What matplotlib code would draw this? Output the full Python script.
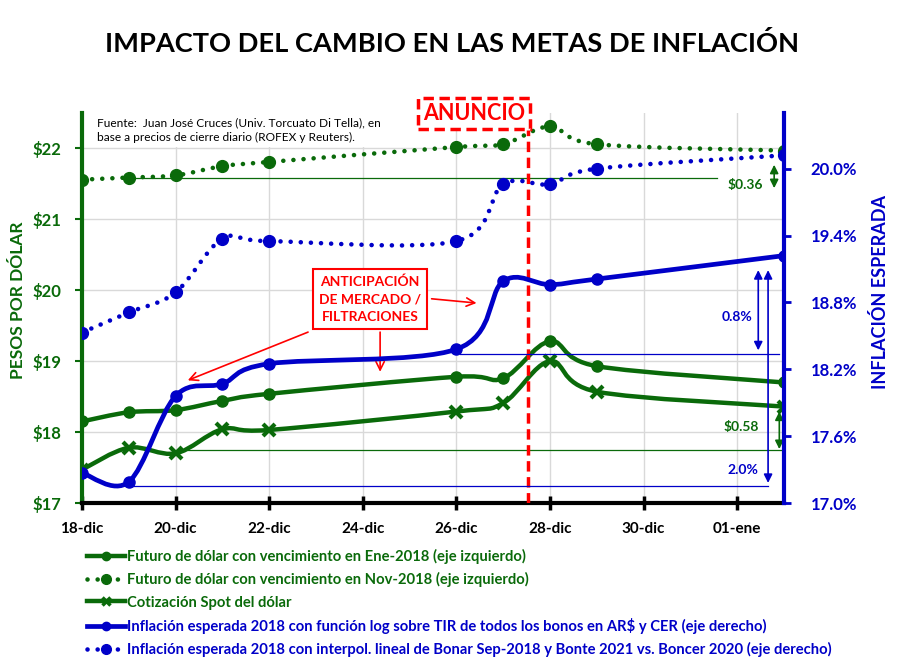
import numpy as np
import matplotlib
matplotlib.use('Agg')
import matplotlib.pyplot as plt
import matplotlib.dates as mdates
from matplotlib.path import Path
from matplotlib.patches import PathPatch
from matplotlib.lines import Line2D

plt.rcParams['font.family'] = ['Lato', 'DejaVu Sans']

VERDE = '#0a6a0a'
AZUL = '#0000c8'
ROJO = '#ff0000'

fechas = ['2017-12-18', '2017-12-19', '2017-12-20', '2017-12-21', '2017-12-22',
          '2017-12-26', '2017-12-27', '2017-12-28', '2017-12-29', '2018-01-02']
futuro_ene = [18.15, 18.28, 18.31, 18.44, 18.54, 18.78, 18.76, 19.28, 18.93, 18.70]
futuro_nov = [21.56, 21.59, 21.62, 21.75, 21.81, 22.02, 22.06, 22.31, 22.06, 21.97]
spot = [17.47, 17.78, 17.70, 18.04, 18.03, 18.29, 18.41, 19.00, 18.57, 18.36]
infl_log = [17.27, 17.19, 17.96, 18.07, 18.25, 18.38, 18.99, 18.96, 19.01, 19.22]
infl_interp = [18.53, 18.71, 18.89, 19.37, 19.35, 19.35, 19.86, 19.86, 20.00, 20.12]

nombres = ['Futuro de dólar con vencimiento en Ene-2018 (eje izquierdo)',
           'Futuro de dólar con vencimiento en Nov-2018 (eje izquierdo)',
           'Cotización Spot del dólar',
           'Inflación esperada 2018 con función log sobre TIR de todos los bonos en AR$ y CER (eje derecho)',
           'Inflación esperada 2018 con interpol. lineal de Bonar Sep-2018 y Bonte 2021 vs. Boncer 2020 (eje derecho)']

meses = {12: 'dic', 1: 'ene'}

x = mdates.date2num(np.array(fechas, dtype='datetime64[D]'))
d0 = mdates.date2num(np.datetime64('2017-12-18'))


def suave(xs, ys):
    # curva tipo Excel (Catmull-Rom pasada a Bezier)
    pts = np.column_stack([xs, ys])
    verts = [pts[0]]
    codes = [Path.MOVETO]
    n = len(pts)
    for i in range(n - 1):
        p0 = pts[i - 1] if i > 0 else pts[i]
        p1 = pts[i]
        p2 = pts[i + 1]
        p3 = pts[i + 2] if i + 2 < n else pts[i + 1]
        verts += [p1 + (p2 - p0) / 6, p2 - (p3 - p1) / 6, p2]
        codes += [Path.CURVE4] * 3
    return Path(verts, codes)


punteado = (0, (0.01, 2.2))

fig = plt.figure(figsize=(9.1, 6.6), dpi=100)
ax = fig.add_axes([82 / 910, 1 - 503 / 660, 702 / 910, 390 / 660])
ax2 = ax.twinx()

ax.set_xlim(d0, d0 + 15)
ax.set_ylim(17, 22.5)
ax2.set_ylim(17, 20.5)

# grilla
ax.set_axisbelow(True)
ax.grid(True, color='#d9d9d9', lw=1)

# series eje izquierdo
ax.add_patch(PathPatch(suave(x, futuro_ene), fill=False, color=VERDE, lw=3.2, zorder=3))
ax.plot(x, futuro_ene, 'o', color=VERDE, ms=8, zorder=4)
ax.add_patch(PathPatch(suave(x, futuro_nov), fill=False, color=VERDE, lw=3.3,
                       linestyle=punteado, capstyle='round', zorder=3))
ax.plot(x, futuro_nov, 'o', color=VERDE, ms=8.5, zorder=4)
ax.add_patch(PathPatch(suave(x, spot), fill=False, color=VERDE, lw=3.2, zorder=3))
ax.plot(x, spot, 'x', color=VERDE, ms=8, mew=3, zorder=4)

# series eje derecho
ax2.add_patch(PathPatch(suave(x, infl_log), fill=False, color=AZUL, lw=3.4, zorder=3))
ax2.plot(x, infl_log, 'o', color=AZUL, ms=8, zorder=4)
ax2.add_patch(PathPatch(suave(x, infl_interp), fill=False, color=AZUL, lw=3.3,
                        linestyle=punteado, capstyle='round', zorder=3))
ax2.plot(x, infl_interp, 'o', color=AZUL, ms=8.5, zorder=4)

# lineas de referencia y flechas
ax.plot([d0 + 1, d0 + 13.57], [21.59, 21.59], color=VERDE, lw=0.9, zorder=2)
ax.plot([d0 + 2.03, d0 + 14.94], [17.75, 17.75], color=VERDE, lw=0.9, zorder=2)
ax2.plot([d0 + 1.09, d0 + 14.66], [17.15, 17.15], color=AZUL, lw=0.9, zorder=2)
ax2.plot([d0 + 8.08, d0 + 14.89], [18.34, 18.34], color=AZUL, lw=0.9, zorder=2)

flecha = dict(arrowstyle='<|-|>,head_length=0.5,head_width=0.25', lw=1.2, shrinkA=0, shrinkB=0)
ax.annotate('', xy=(d0 + 14.79, 21.77), xytext=(d0 + 14.79, 21.44),
            arrowprops=dict(flecha, color=VERDE))
ax.annotate('', xy=(d0 + 14.90, 18.29), xytext=(d0 + 14.90, 17.76),
            arrowprops=dict(flecha, color=VERDE))
ax2.annotate('', xy=(d0 + 14.45, 19.09), xytext=(d0 + 14.45, 18.37),
             arrowprops=dict(flecha, color=AZUL))
ax2.annotate('', xy=(d0 + 14.66, 19.09), xytext=(d0 + 14.66, 17.18),
             arrowprops=dict(flecha, color=AZUL))

ax.text(d0 + 14.17, 21.48, '$0.36', color=VERDE, fontsize=10, fontweight='bold',
        ha='center', va='center', zorder=5)
ax.text(d0 + 14.08, 18.07, '$0.58', color=VERDE, fontsize=10, fontweight='bold',
        ha='center', va='center', zorder=5)
ax2.text(d0 + 14.0, 18.67, '0.8%', color=AZUL, fontsize=10, fontweight='bold',
         ha='center', va='center', zorder=5)
ax2.text(d0 + 14.12, 17.30, '2.0%', color=AZUL, fontsize=10, fontweight='bold',
         ha='center', va='center', zorder=5)

# anuncio
ax.axvline(d0 + 9.53, ymin=0, ymax=0.956, color=ROJO, lw=2.5, ls=(0, (3, 1.6)), zorder=5)
fig.text(474 / 910, 1 - 113.5 / 660, 'ANUNCIO', color=ROJO, fontsize=15.5, fontweight='bold',
         ha='center', va='center',
         bbox=dict(boxstyle='square,pad=0.25', fc='white', ec=ROJO, lw=2.5, ls=(0, (3, 1.6))))

# anticipacion
ax.text(d0 + 6.15, 19.87, 'ANTICIPACIÓN\nDE MERCADO /\nFILTRACIONES', color=ROJO, fontsize=10,
        fontweight='bold', ha='center', va='center', linespacing=1.55, zorder=6,
        bbox=dict(boxstyle='square,pad=0.45', fc='white', ec=ROJO, lw=1.5))
roja = dict(arrowstyle='->,head_length=0.6,head_width=0.3', color=ROJO, lw=1.2,
            shrinkA=0, shrinkB=0)
ax.annotate('', xy=(d0 + 2.26, 18.73), xytext=(d0 + 4.83, 19.41), arrowprops=roja, zorder=6)
ax.annotate('', xy=(d0 + 6.37, 18.85), xytext=(d0 + 6.37, 19.41), arrowprops=roja, zorder=6)
ax.annotate('', xy=(d0 + 8.43, 19.82), xytext=(d0 + 7.47, 19.88), arrowprops=roja, zorder=6)

# fuente
ax.text(0.021, 0.99, 'Fuente:  Juan José Cruces (Univ. Torcuato Di Tella), en\n'
        'base a precios de cierre diario (ROFEX y Reuters).', transform=ax.transAxes,
        fontsize=8.6, ha='left', va='top', linespacing=1.45, zorder=6,
        bbox=dict(boxstyle='square,pad=0.3', fc='white', ec='none'))

# ejes
ax.set_xticks(d0 + np.arange(0, 15, 2))
ax.xaxis.set_major_formatter(plt.FuncFormatter(
    lambda v, p: '%02d-%s' % (mdates.num2date(v).day, meses[mdates.num2date(v).month])))
ax.tick_params(axis='x', direction='inout', length=10, width=2.5, pad=9, labelsize=11)
for t in ax.get_xticklabels():
    t.set_fontweight('bold')

ax.set_yticks(np.arange(17, 23, 1))
ax.set_yticklabels(['$%d' % v for v in np.arange(17, 23, 1)], color=VERDE,
                   fontsize=12, fontweight='bold')
ax.tick_params(axis='y', colors=VERDE, length=5, width=1.5, pad=10)

t2 = np.arange(17.0, 20.5, 0.6)
ax2.set_yticks(t2)
ax2.set_yticklabels(['%.1f%%' % v for v in t2], color=AZUL, fontsize=12, fontweight='bold')
ax2.tick_params(axis='y', colors=AZUL, length=5, width=2, pad=14)

for s in ['top', 'right']:
    ax.spines[s].set_visible(False)
for s in ['top', 'left', 'bottom']:
    ax2.spines[s].set_visible(False)
ax.spines['left'].set_color(VERDE)
ax.spines['left'].set_linewidth(3)
ax.spines['bottom'].set_color('black')
ax.spines['bottom'].set_linewidth(3)
ax2.spines['right'].set_color(AZUL)
ax2.spines['right'].set_linewidth(3)

fig.text(18 / 910, 1 - 300 / 660, 'PESOS POR DÓLAR', color=VERDE, fontsize=12.5,
         fontweight='bold', rotation=90, ha='center', va='center')
fig.text(880 / 910, 1 - 292 / 660, 'INFLACIÓN ESPERADA', color=AZUL, fontsize=13,
         fontweight='bold', rotation=90, ha='center', va='center')

fig.text(452 / 910, 1 - 43 / 660, 'IMPACTO DEL CAMBIO EN LAS METAS DE INFLACIÓN',
         fontsize=19.6, fontweight='bold', ha='center', va='center')

# leyenda
handles = [Line2D([], [], color=VERDE, lw=3.2, marker='o', ms=6),
           Line2D([], [], color=VERDE, lw=3.3, ls=punteado, dash_capstyle='round', marker='o', ms=7),
           Line2D([], [], color=VERDE, lw=3.2, marker='x', ms=6, mew=2.5),
           Line2D([], [], color=AZUL, lw=3.4, marker='o', ms=6),
           Line2D([], [], color=AZUL, lw=3.3, ls=punteado, dash_capstyle='round', marker='o', ms=7)]
leg = fig.legend(handles, nombres, loc='upper left', bbox_to_anchor=(87 / 910, 1 - 549 / 660),
                 frameon=False, prop=dict(size=10.6, weight='bold'), handlelength=2.6,
                 handletextpad=0.15, labelspacing=0.56, borderaxespad=0, borderpad=0)
for txt, c in zip(leg.get_texts(), [VERDE, VERDE, VERDE, AZUL, AZUL]):
    txt.set_color(c)

fig.savefig('out.png', dpi=100)
